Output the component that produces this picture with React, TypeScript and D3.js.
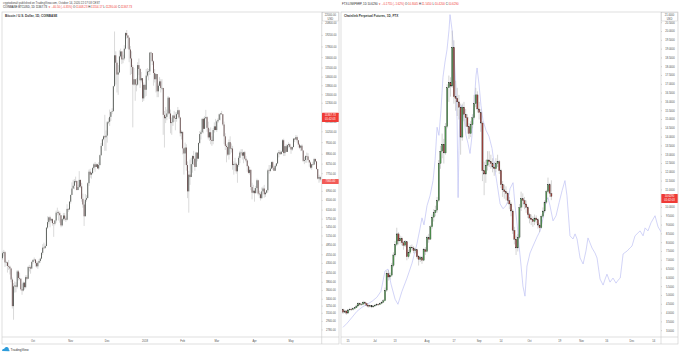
import React from "react";
import * as d3 from "d3";

// ---------- DATA ----------
const btcStart = "2017-09-06";
const btcFirstOpen = 4450;
const btcClose = [
  4600, 4630, 4330, 4330, 4230, 4210, 4160, 3870, 3250, 3700, 3720, 3690, 4080, 3910, 3890, 3630, 3600, 3790, 3680, 3930, 3890, 4200, 4190, 4160, 4340,
  4400, 4410, 4310, 4220, 4320, 4370, 4440, 4610, 4770, 4760, 4820, 5440, 5640, 5820, 5700, 5750, 5600, 5580, 5700, 6000, 6010, 5980, 5900, 5520, 5750, 5890, 5770, 5730, 6150, 6130, 6450,
  6740, 7030, 7160, 7380, 7390, 6960, 7100, 7440, 7130, 6570, 6330, 5860, 6530, 6600, 7280, 7850, 7700, 7780, 8040, 8240, 8100, 8240, 8020, 8200, 8750, 9300, 9710, 9900, 9840, 9950,
  10860, 10890, 11250, 11620, 11670, 13750, 16850, 16050, 14850, 15060, 16730, 17280, 16400, 16500, 17600, 19500, 19200, 18900, 17500, 16500, 15600, 13900, 14400, 13900, 13900, 15800, 15400, 14300, 14500, 12700, 13880,
  13440, 14750, 15150, 15160, 17150, 17100, 16200, 15000, 14400, 14900, 13300, 13800, 14200, 13600, 13600, 11400, 11150, 11250, 11500, 12760, 11500, 10800, 10860, 11350, 11150, 11100, 11450, 11750, 11200, 10100, 10200,
  9150, 8850, 9200, 8200, 6900, 7700, 7580, 8250, 8700, 8550, 8100, 8900, 8550, 9480, 10050, 10170, 11100, 10400, 11150, 11230, 10470, 9830, 10170, 9670, 9600, 10320, 10570, 10320,
  10920, 11030, 11440, 11500, 11450, 10700, 9900, 9300, 9230, 8780, 9530, 9130, 9140, 8200, 8260, 8270, 7870, 8200, 8600, 8900, 8900, 8720, 8920, 8550, 8450, 8140, 7790, 7950, 7100, 6840, 6930,
  6820, 7050, 7420, 6800, 6770, 6600, 6900, 7030, 6770, 6840, 6950, 7920, 7890, 8010, 8360, 8060, 7900, 8160, 8290, 8860, 8920, 8810, 8950, 9650, 8870, 9280, 8940, 9350, 9400, 9240,
  9080, 9230, 9750, 9700, 9850, 9650, 9380, 9190, 9310, 9020, 8430, 8480, 8700, 8680, 8480, 8340, 8060, 8240, 8230, 8530, 8400, 7990, 7500, 7580, 7460,
];
const btcHigh = [
  4650, 4700, 4660, 4380, 4350, 4400, 4240, 4180, 3920, 3780, 3820, 3800, 4120, 4120, 4050, 3900, 3760, 3820, 3810, 3980, 3980, 4230, 4260, 4240, 4370,
  4420, 4470, 4430, 4360, 4360, 4420, 4470, 4630, 4880, 4930, 4870, 5450, 5860, 5850, 5880, 5790, 5780, 5590, 5720, 6080, 6200, 6080, 6050, 5900, 5790, 5990, 5990, 5850, 6340, 6180, 6470,
  6760, 7320, 7440, 7480, 7600, 7400, 7200, 7880, 7450, 7300, 6800, 6450, 6780, 6730, 7330, 7960, 8000, 7840, 8100, 8300, 8370, 8290, 8270, 8360, 8790, 9480, 9750, 9970, 11400, 10290,
  10950, 11160, 11800, 11630, 11900, 13800, 19697, 17300, 16300, 15800, 17400, 17600, 17300, 16900, 18000, 19600, 19891, 19200, 19000, 17900, 17300, 15800, 15500, 14400, 14500, 16100, 16500, 15500, 15100, 14500, 14100,
  13900, 15400, 15500, 15400, 17200, 17250, 17100, 16300, 15400, 14950, 14900, 14000, 14600, 14400, 14400, 13600, 11700, 12000, 11800, 12900, 12800, 11800, 11200, 11400, 11700, 11600, 11600, 12000, 11800, 11250, 10300,
  10200, 9150, 9500, 9400, 8400, 7900, 8500, 8600, 8750, 9000, 8550, 8950, 8900, 9500, 10250, 10300, 11150, 11200, 11300, 11780, 11300, 10900, 10400, 10500, 9900, 10450, 10850, 11100,
  11000, 11150, 11500, 11550, 11700, 11450, 10900, 10100, 9400, 9500, 9700, 9900, 9450, 9300, 8400, 8600, 8350, 8250, 8700, 9000, 9100, 9100, 8950, 9000, 8700, 8500, 8200, 8100, 7950, 7300, 7200,
  7050, 7150, 7500, 7450, 6930, 6850, 7080, 7120, 7200, 6880, 6970, 8000, 8200, 8200, 8400, 8430, 8150, 8230, 8300, 8930, 9050, 9030, 9000, 9730, 9750, 9300, 9400, 9400, 9520, 9450,
  9250, 9250, 9800, 9780, 9990, 9950, 9650, 9450, 9350, 9390, 9030, 8650, 8750, 8900, 8860, 8480, 8400, 8260, 8380, 8600, 8570, 8410, 8000, 7700, 7640,
];
const btcLow = [
  4400, 4500, 4200, 4230, 4050, 4120, 4000, 3800, 3200, 2972, 3550, 3560, 3650, 3850, 3850, 3600, 3500, 3580, 3620, 3650, 3850, 3880, 4080, 4020, 4140,
  4290, 4360, 4210, 4180, 4150, 4300, 4320, 4420, 4550, 4720, 4730, 4820, 5390, 5560, 5450, 5620, 5510, 5120, 5520, 5620, 5900, 5700, 5620, 5450, 5480, 5700, 5700, 5650, 5700, 6030, 6100,
  6370, 6740, 7030, 7000, 7300, 6950, 6960, 7050, 7050, 6450, 6200, 5500, 5860, 6450, 6600, 7150, 7550, 7500, 7720, 7950, 7850, 8100, 8010, 7950, 8180, 8700, 9300, 9640, 9000, 9000,
  9500, 10720, 10600, 10950, 11450, 11700, 13750, 13900, 13200, 13000, 15000, 16600, 15900, 16000, 16300, 17500, 18800, 17600, 16100, 14800, 14900, 10500, 13800, 12500, 13300, 13800, 14800, 13600, 14100, 12400, 12500,
  12800, 12900, 14600, 14300, 14800, 16200, 15800, 13800, 14100, 13200, 12800, 12800, 13800, 13200, 13400, 10000, 9200, 10800, 11000, 11400, 11100, 10100, 10000, 10600, 10900, 10300, 10900, 11400, 11100, 9900, 9700,
  8800, 7700, 8200, 7900, 6600, 6000, 7200, 7600, 7800, 8200, 7900, 8100, 8400, 8550, 9400, 9700, 10100, 10100, 10400, 11100, 10200, 9700, 9600, 9400, 9300, 9400, 10150, 10300,
  10200, 10800, 11000, 11000, 11400, 10600, 9400, 9050, 8350, 8700, 8500, 8800, 8900, 7950, 7700, 7900, 7750, 7300, 8100, 8300, 8750, 8500, 8300, 8500, 8350, 7850, 7750, 7700, 6950, 6550, 6800,
  6450, 6800, 7050, 6720, 6600, 6500, 6570, 6900, 6620, 6650, 6800, 6850, 7750, 7830, 8000, 7950, 7880, 7900, 8100, 8250, 8620, 8760, 8800, 8940, 8700, 8700, 8930, 8930, 9200, 9150,
  8830, 9000, 9200, 9530, 9690, 9500, 9200, 9100, 8980, 9000, 8360, 8250, 8330, 8320, 8450, 8110, 8000, 7950, 8160, 8200, 8350, 7960, 7460, 7300, 7360,
];

const linkStart = "2020-06-12";
const linkFirstOpen = 4.2;
const linkClose = [
  4.05, 4.12, 4.0, 4.18, 4.22, 4.2, 4.25, 4.3, 4.4, 4.55, 4.48, 4.5, 4.62, 4.55, 4.45, 4.38, 4.42, 4.35, 4.4, 4.45,
  4.5, 4.48, 4.55, 4.62, 4.7, 5.3, 6.25, 6.05, 6.15, 6.7, 7.3, 7.9, 8.5, 8.1, 8.25, 8.0, 7.85, 8.05, 7.2, 7.45,
  7.75, 7.7, 7.55, 7.6, 7.2, 7.05, 7.15, 7.0, 7.6, 7.5, 8.3, 8.2, 8.9, 9.45, 9.7, 9.85, 10.4, 12.5, 13.2, 13.6,
  13.1, 14.6, 16.8, 17.1, 16.9, 19.1, 16.3, 16.2, 16.0, 15.7, 14.0, 15.7, 15.3, 15.1, 14.6, 14.2, 14.7, 15.1, 15.9, 16.4,
  15.6, 15.4, 14.8, 12.1, 11.9, 12.4, 12.7, 12.6, 12.5, 12.3, 12.2, 12.5, 12.6, 12.1, 11.3, 11.0, 10.9, 10.8, 10.4, 10.2,
  9.8, 8.7, 8.2, 7.7, 8.3, 10.0, 10.5, 10.4, 10.2, 10.0, 9.6, 9.4, 9.3, 9.2, 9.4, 9.3, 9.0, 8.85, 9.5, 9.8,
  10.3, 10.9, 11.3, 10.8045, 10.629,
];
const linkHigh = [
  4.25, 4.2, 4.15, 4.22, 4.3, 4.3, 4.32, 4.36, 4.48, 4.62, 4.6, 4.58, 4.7, 4.68, 4.6, 4.5, 4.48, 4.45, 4.46, 4.52,
  4.56, 4.55, 4.6, 4.68, 4.8, 5.45, 6.4, 6.45, 6.3, 6.85, 7.45, 8.1, 8.85, 8.6, 8.4, 8.35, 8.1, 8.15, 8.05, 7.6,
  7.85, 7.9, 7.8, 7.7, 7.65, 7.3, 7.25, 7.25, 7.7, 7.75, 8.4, 8.5, 9.0, 9.6, 9.9, 10.1, 10.6, 12.7, 13.5, 14.2,
  13.9, 14.8, 17.0, 17.5, 17.4, 20.05, 19.5, 17.2, 16.8, 16.4, 15.9, 15.9, 16.0, 15.6, 15.3, 14.8, 14.9, 15.3, 16.4, 16.8,
  16.6, 16.0, 15.6, 14.9, 12.6, 12.7, 13.2, 13.2, 13.0, 12.8, 12.6, 12.8, 13.0, 12.7, 12.2, 11.5, 11.3, 11.2, 10.9, 10.6,
  10.3, 9.9, 8.9, 8.4, 8.5, 10.2, 10.9, 10.8, 10.6, 10.4, 10.1, 9.7, 9.6, 9.5, 9.6, 9.55, 9.4, 9.1, 9.6, 10.0,
  10.4, 11.0, 11.7, 11.4, 11.545,
];
const linkLow = [
  3.95, 4.0, 3.9, 3.95, 4.1, 4.12, 4.15, 4.2, 4.28, 4.38, 4.4, 4.42, 4.45, 4.48, 4.38, 4.3, 4.32, 4.28, 4.3, 4.36,
  4.42, 4.4, 4.45, 4.5, 4.58, 4.68, 5.2, 5.85, 5.9, 6.05, 6.6, 7.2, 7.8, 7.9, 7.95, 7.85, 7.6, 7.75, 7.0, 7.1,
  7.35, 7.55, 7.4, 7.4, 7.1, 6.7, 6.9, 6.8, 6.95, 7.3, 7.45, 8.0, 8.15, 8.8, 9.2, 9.5, 9.7, 10.3, 12.2, 12.8,
  12.5, 13.0, 14.5, 16.0, 16.3, 16.8, 15.9, 15.5, 15.2, 15.0, 13.0, 13.8, 14.9, 14.6, 14.2, 13.9, 14.0, 14.5, 15.0, 15.7,
  15.4, 15.0, 14.3, 11.5, 10.7, 11.4, 12.1, 12.3, 12.2, 12.0, 11.8, 12.0, 12.3, 11.9, 11.1, 10.6, 10.5, 10.4, 10.2, 9.9,
  9.5, 8.5, 7.9, 7.3, 7.5, 8.2, 9.8, 10.0, 9.9, 9.7, 9.4, 9.1, 9.0, 8.9, 9.0, 9.1, 8.8, 8.6, 8.8, 9.4,
  9.7, 10.2, 10.8, 10.6, 10.42,
];

// light-blue comparison overlay (days after linkStart, price)
const overlayDay = [
  0, 2.4, 5.4, 8.3, 11.3, 14.3, 17.3, 20.2, 22.6, 25, 26.8, 28.6, 31, 32.7, 35.1, 38.1, 41.1, 44, 45.8, 47,
  48.2, 50, 51.8, 53.6, 54.8, 56, 57.1, 58.3, 59.5, 60.7, 61.9, 63.1, 63.7, 64.9, 66.1, 67.3, 67.9, 68.5, 69, 69.6,
  70.8, 72, 73.2, 74.4, 75.6, 76.8, 78, 79.2, 79.8, 81, 82.1, 83.3, 85.1, 86.9, 88.7, 90.5, 91.7, 93.5, 95.2, 97,
  98.2, 99.4, 101.2, 102.4, 103.6, 104.8, 106, 107.1, 108.3, 109.5, 111.3, 113.1, 115.5, 117.3, 119, 120.8, 122, 123.2, 125, 126.8,
  128.6, 130.4, 132.1, 133.3, 135.1, 136.9, 138.1, 139.3, 141.1, 142.9, 144.6, 145.8, 147, 148.2, 150, 151.2, 153, 154.8, 156, 157.1,
  158.9, 160.7, 162.5, 163.7, 165, 166.7, 169.1, 170.8, 172, 173.8, 175.6, 176.8, 178.6, 179.8, 181.5, 183.3, 185.7, 187.5, 189.3,
];
const overlayVal = [
  3.19, 3.42, 3.76, 4.1, 4.33, 4.5, 4.67, 4.9, 5.24, 6.39, 6.5, 5.64, 4.79, 4.5, 5.24, 5.99, 6.84, 7.93, 8.79, 9.41,
  9.01, 10.1, 10.67, 11.53, 12.67, 14.56, 14.1, 15.53, 17.41, 18.27, 18.96, 20.1, 20.96, 20.1, 18.67, 16.67, 14.96, 10.56, 13.24, 15.53,
  15.81, 15.07, 14.1, 13.64, 13.07, 14.1, 15.81, 17.53, 17.93, 16.96, 15.81, 14.96, 14.39, 14.04, 13.36, 12.1, 11.36, 10.21, 9.93, 10.1,
  10.39, 11.07, 11.41, 10.1, 9.07, 7.81, 6.67, 5.53, 4.96, 6.67, 7.41, 7.81, 8.33, 8.67, 9.36, 10.39, 10.56, 10.1, 9.24, 9.53,
  10.27, 10.96, 11.53, 10.67, 8.39, 8.21, 8.5, 8.21, 7.13, 6.79, 7.53, 8.27, 7.99, 7.7, 7.41, 7.13, 5.93, 5.59, 5.93, 6.21,
  5.76, 5.99, 5.7, 5.87, 5.99, 7.36, 7.53, 7.7, 7.81, 8.39, 8.56, 8.67, 8.39, 8.84, 8.67, 9.13, 9.53, 8.9, 8.61,
];

const btcTicks = [20800, 19200, 17800, 16600, 15500, 14600, 13800, 13000, 12300, 10900, 10200, 9500, 8800, 8250, 7750, 6900, 6500, 6100, 5750, 5450, 5150, 4850, 4550, 4300, 4050, 3800, 3600, 3400, 3250, 3100, 2940, 2780];
const linkTicks = [20.5, 20, 19.5, 19, 18.5, 18, 17.5, 17, 16.5, 16, 15.5, 15, 14.5, 14, 13.5, 13, 12.5, 12, 11.5, 11, 10, 9.5, 9, 8.5, 8, 7.5, 7, 6.5, 6, 5.5, 5, 4.5, 4, 3.5, 3];
const btcTimeDates = ["2017-10-01", "2017-11-01", "2017-12-01", "2018-01-01", "2018-02-01", "2018-03-01", "2018-04-01", "2018-05-01"];
const btcTimeLabels = ["Oct", "Nov", "Dec", "2018", "Feb", "Mar", "Apr", "May"];
const linkTimeDates = ["2020-06-15", "2020-07-01", "2020-07-13", "2020-08-01", "2020-08-17", "2020-09-01", "2020-09-14", "2020-10-01", "2020-10-19", "2020-11-01", "2020-11-16", "2020-12-01", "2020-12-14"];
const linkTimeLabels = ["15", "Jul", "13", "Aug", "17", "Sep", "14", "Oct", "19", "Nov", "16", "Dec", "14"];

const btcLast = 11367.73;
const btcMarker = 7365.0;
const linkLast = 10.629;
const countdown = "01:42:03";

// ---------- helpers ----------
const DAY = 86400000;
const utc = (s: string) => new Date(s + "T00:00:00Z");
const addDays = (s: string, d: number) => new Date(utc(s).getTime() + d * DAY);
const FONT = "'Liberation Sans', Arial, sans-serif";
const RED = "#ef3b36";

type CandleProps = {
  closes: number[]; highs: number[]; lows: number[]; firstOpen: number; start: string;
  x: (d: Date) => number; y: (v: number) => number; bodyW: number;
  upFill: string; downFill: string; stroke: string; strokeW: number; wick: string; wickW: number;
};

function Candles(p: CandleProps) {
  return (
    <g>
      {p.closes.map((c, i) => {
        const o = i === 0 ? p.firstOpen : p.closes[i - 1];
        const cx = p.x(addDays(p.start, i));
        const yo = p.y(o), yc = p.y(c);
        const top = Math.min(yo, yc);
        const h = Math.max(0.6, Math.abs(yo - yc));
        const up = c >= o;
        return (
          <g key={i}>
            <line x1={cx} x2={cx} y1={p.y(p.highs[i])} y2={p.y(p.lows[i])} stroke={p.wick} strokeWidth={p.wickW} />
            <rect x={cx - p.bodyW / 2} y={top} width={p.bodyW} height={h} fill={up ? p.upFill : p.downFill}
              stroke={p.strokeW > 0 ? p.stroke : "none"} strokeWidth={p.strokeW} />
          </g>
        );
      })}
    </g>
  );
}

export default function App() {
  const L = { x0: 2, x1: 321.7, right: 339, top: 12, plotB: 337, bottom: 344 };
  const R = { x0: 341, x1: 661, right: 678, top: 12, plotB: 337, bottom: 344 };

  const btcX = d3.scaleUtc().domain([utc("2017-10-01"), utc("2018-05-01")]).range([33, 291]);
  const btcY = d3.scaleLog().domain([2654, 22384]).range([L.plotB, L.top]);
  const linkX = d3.scaleUtc().domain([utc("2020-06-12"), utc("2020-12-01")]).range([343, 632]);
  const linkY = d3.scaleLinear().domain([2.64, 21.11]).range([R.plotB, R.top]);

  const overlayLine = d3.line<number>()
    .x((_, i) => linkX(addDays(linkStart, overlayDay[i])))
    .y((v) => linkY(v))
    .curve(d3.curveLinear);

  const axisText = { fontFamily: FONT, fontSize: 2.7, fill: "#505050" } as const;

  const priceBox = (px: number, x0: number, x1: number, lines: string[], key: string, fill = RED) => {
    const h = lines.length * 4.2 + 0.8;
    const top = px - 2.5;
    return (
      <g key={key}>
        <rect x={x0 + 0.3} y={top} width={x1 - x0 - 0.6} height={h} fill={fill} rx={0.5} />
        {lines.map((t, i) => (
          <text key={i} x={(x0 + x1) / 2} y={top + 3.3 + i * 4.2} textAnchor="middle" fontFamily={FONT} fontSize={2.7} fill="#fff">{t}</text>
        ))}
      </g>
    );
  };

  return (
    <svg width={680} height={355} style={{ position: "absolute", left: 0, top: 0, background: "#fff" }}>
      <rect x={0} y={0} width={680} height={355} fill="#fff" />
      <defs>
        <clipPath id="clipL"><rect x={L.x0} y={L.top} width={L.x1 - L.x0} height={L.plotB - L.top} /></clipPath>
        <clipPath id="clipR"><rect x={R.x0} y={R.top} width={R.x1 - R.x0} height={R.plotB - R.top} /></clipPath>
      </defs>

      {/* header */}
      <text x={3} y={3.6} fontFamily={FONT} fontSize={2.8} fill="#444">cryptodonalt published on TradingView.com, October 14, 2020 22:17:58 CEST</text>
      <text x={3} y={8} fontFamily={FONT} fontSize={2.8} fill="#222">
        <tspan>COINBASE:BTCUSD, 1D 11367.73 </tspan>
        <tspan fill={RED}>▼ −40.50 (−0.35%)</tspan>
        <tspan> O:</tspan><tspan fill={RED}>11408.23</tspan>
        <tspan> H:</tspan><tspan fill={RED}>11554.17</tspan>
        <tspan> L:</tspan><tspan fill={RED}>11280.00</tspan>
        <tspan> C:</tspan><tspan fill={RED}>11367.73</tspan>
      </text>
      <text x={342} y={4.6} fontFamily={FONT} fontSize={2.8} fill="#222">
        <tspan>FTX:LINKPERP, 1D 10.6290 </tspan>
        <tspan fill={RED}>▼ −0.1755 (−1.62%)</tspan>
        <tspan> O:</tspan><tspan fill={RED}>10.8045</tspan>
        <tspan> H:</tspan><tspan fill={RED}>11.5450</tspan>
        <tspan> L:</tspan><tspan fill={RED}>10.4200</tspan>
        <tspan> C:</tspan><tspan fill={RED}>10.6290</tspan>
      </text>

      {/* ---------- LEFT PANEL ---------- */}
      <rect x={L.x0} y={L.top} width={L.right - L.x0} height={L.bottom - L.top} fill="none" stroke="#c9c9c9" strokeWidth={0.6} />
      <line x1={L.x1} x2={L.x1} y1={L.top} y2={L.bottom} stroke="#c9c9c9" strokeWidth={0.6} />
      <line x1={L.x0} x2={L.right} y1={L.plotB} y2={L.plotB} stroke="#c9c9c9" strokeWidth={0.6} />
      <g clipPath="url(#clipL)">
        <Candles closes={btcClose} highs={btcHigh} lows={btcLow} firstOpen={btcFirstOpen} start={btcStart}
          x={btcX} y={btcY} bodyW={0.85} upFill="#4a4f4a" downFill="#5e4343" stroke="#333" strokeW={0}
          wick="#b5b5b5" wickW={0.5} />
      </g>
      <text x={5} y={16.8} fontFamily={FONT} fontSize={3.1} fontWeight="bold" fill="#333">Bitcoin / U.S. Dollar, 1D, COINBASE</text>
      {btcTicks.map((t) => (
        <g key={t}>
          <line x1={L.x1} x2={L.x1 + 1} y1={btcY(t)} y2={btcY(t)} stroke="#999" strokeWidth={0.4} />
          <text x={(L.x1 + L.right) / 2 + 0.5} y={btcY(t) + 0.95} textAnchor="middle" {...axisText}>{t.toFixed(2)}</text>
        </g>
      ))}
      <rect x={L.x1 + 0.8} y={12.6} width={L.right - L.x1 - 1.6} height={8.4} fill="#fff" stroke="#bbb" strokeWidth={0.4} />
      <text x={(L.x1 + L.right) / 2} y={15.9} textAnchor="middle" {...axisText}>22000.00</text>
      <text x={(L.x1 + L.right) / 2} y={19.6} textAnchor="middle" {...axisText}>USD</text>
      {priceBox(btcY(btcLast), L.x1, L.right, [btcLast.toFixed(2), countdown], "bl")}
      {priceBox(btcY(btcMarker), L.x1, L.right, [btcMarker.toFixed(2)], "bm", "#f25b57")}
      {btcTimeDates.map((d, i) => (
        <text key={d} x={btcX(utc(d))} y={341.8} textAnchor="middle" {...axisText}>{btcTimeLabels[i]}</text>
      ))}

      {/* ---------- RIGHT PANEL ---------- */}
      <rect x={R.x0} y={R.top} width={R.right - R.x0} height={R.bottom - R.top} fill="none" stroke="#c9c9c9" strokeWidth={0.6} />
      <line x1={R.x1} x2={R.x1} y1={R.top} y2={R.bottom} stroke="#c9c9c9" strokeWidth={0.6} />
      <line x1={R.x0} x2={R.right} y1={R.plotB} y2={R.plotB} stroke="#c9c9c9" strokeWidth={0.6} />
      <g clipPath="url(#clipR)">
        <path d={overlayLine(overlayVal) || ""} fill="none" stroke="#bec1f4" strokeWidth={0.7} />
        <Candles closes={linkClose} highs={linkHigh} lows={linkLow} firstOpen={linkFirstOpen} start={linkStart}
          x={linkX} y={linkY} bodyW={1.3} upFill="#4f9550" downFill="#9b3f38" stroke="#2f2f2f" strokeW={0.25}
          wick="#b0b0b0" wickW={0.55} />
      </g>
      <text x={344} y={16.8} fontFamily={FONT} fontSize={3.1} fontWeight="bold" fill="#333">Chainlink Perpetual Futures, 1D, FTX</text>
      {linkTicks.map((t) => (
        <g key={t}>
          <line x1={R.x1} x2={R.x1 + 1} y1={linkY(t)} y2={linkY(t)} stroke="#999" strokeWidth={0.4} />
          <text x={(R.x1 + R.right) / 2 + 0.5} y={linkY(t) + 0.95} textAnchor="middle" {...axisText}>{t.toFixed(4)}</text>
        </g>
      ))}
      <rect x={R.x1 + 0.8} y={12.6} width={R.right - R.x1 - 1.6} height={8.4} fill="#fff" stroke="#bbb" strokeWidth={0.4} />
      <text x={(R.x1 + R.right) / 2} y={15.9} textAnchor="middle" {...axisText}>21.0000</text>
      <text x={(R.x1 + R.right) / 2} y={19.6} textAnchor="middle" {...axisText}>USD</text>
      {priceBox(linkY(linkLast), R.x1, R.right, [linkLast.toFixed(4), countdown], "rl")}
      {linkTimeDates.map((d, i) => (
        <text key={d} x={linkX(utc(d))} y={341.8} textAnchor="middle" {...axisText}>{linkTimeLabels[i]}</text>
      ))}

      {/* TradingView footer */}
      <g transform="translate(2,346.5)">
        <path d="M0,4.5 Q0,2.2 2.2,2.2 Q3,0 5.2,0.6 Q7.2,1.2 6.8,3 Q8,3.4 7.4,4.8 Z" fill="#2d9cdb" />
        <text x={8.6} y={4.3} fontFamily={FONT} fontSize={3.3} fill="#333">TradingView</text>
      </g>
    </svg>
  );
}
